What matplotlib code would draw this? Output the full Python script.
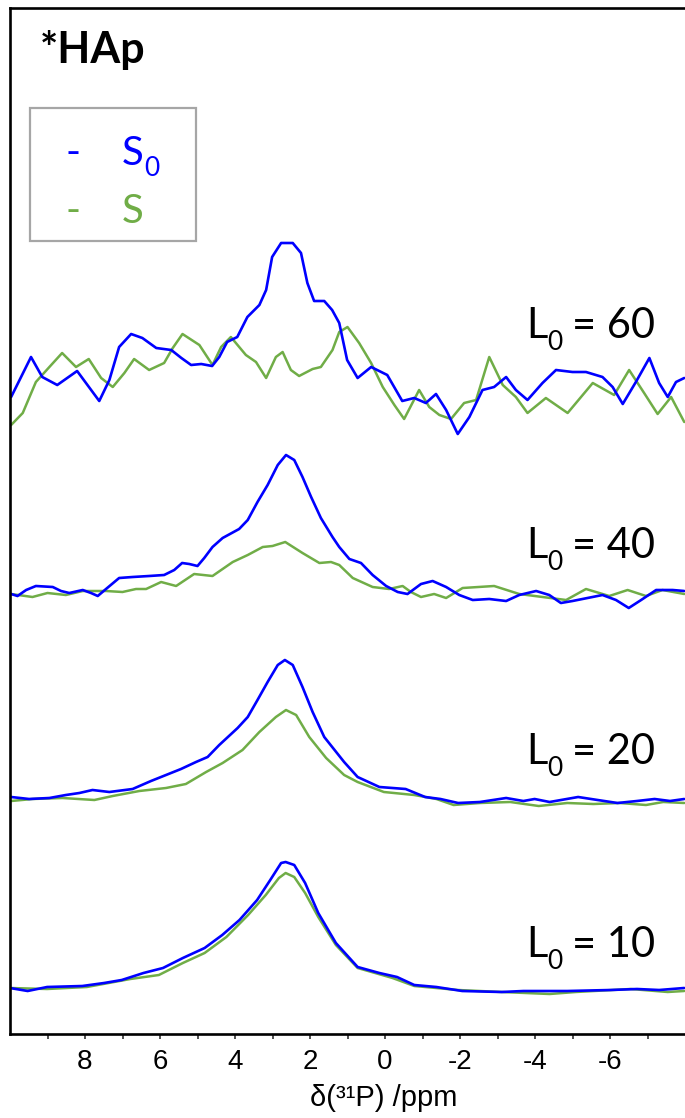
import matplotlib
matplotlib.use("Agg")
import matplotlib.pyplot as plt
from matplotlib.patches import Rectangle
import numpy as np

# ---------------- data ----------------
# x axis: chemical shift delta(31P) in ppm ; y: intensity above each trace baseline
level_values = ["10", "20", "40", "60"]

# L0 = 10
ppm_S0_10 = [10.0, 9.53, 9.01, 8.07, 7.49, 7.02, 6.44, 5.92, 5.39, 4.81, 4.34, 3.88, 3.41,
             3.06, 2.77, 2.65, 2.42, 2.13, 1.78, 1.31, 0.73, 0.15, -0.32, -0.78, -1.37,
             -2.06, -3.11, -3.69, -4.86, -6.02, -6.72, -7.31, -7.98]
S0_10 = [2, -1, 3, 4, 7, 10, 17, 22, 32, 42, 55, 70, 90, 110, 127, 128, 125, 107, 77, 47,
         23, 17, 13, 5, 3, -1, -2, -1, -1, 0, 1, 0, 2]
ppm_S_10 = [10.0, 9.01, 7.95, 7.37, 6.79, 6.03, 5.39, 4.81, 4.23, 3.65, 3.18, 2.83, 2.65,
            2.42, 2.13, 1.78, 1.31, 0.73, -0.20, -0.78, -1.95, -3.11, -4.39, -5.09, -6.55,
            -7.54, -7.98]
S_10 = [2, 1, 3, 7, 11, 15, 27, 37, 53, 75, 95, 112, 117, 113, 97, 73, 45, 22, 12, 4, 0,
        -2, -4, -2, 1, -2, -1]

# L0 = 20
ppm_S0_20 = [9.97, 9.49, 8.95, 8.51, 8.15, 7.80, 7.35, 6.73, 6.24, 5.84, 5.44, 5.04, 4.73,
             4.42, 3.93, 3.66, 3.40, 3.13, 2.86, 2.67, 2.46, 2.20, 1.93, 1.62, 1.09, 0.73,
             0.15, -0.55, -1.07, -1.48, -1.95, -2.53, -3.23, -3.69, -3.99, -4.39, -5.15,
             -5.67, -6.20, -6.72, -7.19, -7.60, -7.98]
S0_20 = [3, 1, 2, 5, 7, 10, 8, 11, 19, 25, 31, 38, 43, 55, 72, 83, 100, 118, 135, 140, 135,
         113, 88, 63, 38, 23, 13, 11, 3, 1, -3, -2, 2, -1, 1, -2, 3, 0, -3, -1, 1, -1, 1]
ppm_S_20 = [9.97, 9.40, 8.60, 7.75, 7.26, 6.55, 5.84, 5.31, 4.77, 4.33, 3.80, 3.35, 2.91,
            2.64, 2.37, 2.02, 1.57, 1.09, 0.73, 0.03, -0.78, -1.37, -1.83, -2.53, -3.34,
            -4.10, -4.86, -5.56, -6.26, -6.96, -7.42, -7.98]
S_20 = [-1, 1, 2, 0, 4, 9, 12, 16, 28, 37, 50, 68, 83, 90, 85, 63, 42, 25, 18, 8, 5, 1, -5,
        -3, -2, -6, -3, -4, -3, -5, -2, -3]

# L0 = 40
ppm_S0_40 = [9.97, 9.80, 9.57, 9.31, 8.86, 8.64, 8.42, 8.06, 7.84, 7.66, 7.44, 7.09, 6.73,
             6.29, 5.89, 5.62, 5.41, 5.22, 5.00, 4.82, 4.60, 4.33, 3.89, 3.66, 3.40, 3.13,
             2.86, 2.64, 2.42, 2.20, 1.97, 1.71, 1.40, 1.22, 0.95, 0.64, 0.33, -0.03, -0.34,
             -0.60, -0.96, -1.27, -1.63, -1.98, -2.34, -2.78, -3.23, -3.58, -4.03, -4.38,
             -4.69, -5.00, -5.40, -5.80, -6.16, -6.50, -6.83, -7.23, -7.67, -7.98]
S0_40 = [-2, -4, 2, 6, 5, 1, -1, 2, -1, -4, 3, 14, 15, 16, 17, 22, 29, 28, 26, 34, 45, 54,
         63, 72, 90, 107, 127, 137, 132, 115, 95, 74, 55, 45, 33, 29, 17, 6, 0, -2, 8, 11,
         5, -3, -8, -7, -9, -3, 1, -3, -11, -9, -6, -3, -8, -16, -8, 2, 2, 1]
ppm_S_40 = [9.97, 9.40, 9.00, 8.51, 8.06, 7.44, 7.00, 6.64, 6.37, 5.97, 5.57, 5.09, 4.60,
            4.06, 3.66, 3.26, 3.00, 2.66, 2.20, 1.75, 1.44, 1.22, 0.86, 0.33, -0.11, -0.47,
            -0.69, -0.96, -1.31, -1.63, -2.07, -2.91, -3.58, -4.20, -4.83, -5.36, -5.98,
            -6.47, -6.96, -7.40, -7.98]
S_40 = [-2, -5, -1, -3, 1, 1, 0, 3, 3, 10, 6, 18, 16, 30, 37, 45, 46, 50, 39, 29, 30, 27,
        14, 5, 3, 6, 0, -5, -2, -6, 4, 6, -2, -5, -8, 3, -4, 2, -4, 2, -2]

# L0 = 60
ppm_S0_60 = [9.97, 9.44, 9.14, 8.74, 8.21, 7.62, 7.35, 7.09, 6.77, 6.47, 6.10, 5.70, 5.43,
             5.17, 4.90, 4.61, 4.42, 4.21, 3.94, 3.67, 3.35, 3.17, 3.01, 2.77, 2.46, 2.24,
             2.07, 1.89, 1.62, 1.41, 1.22, 1.01, 0.73, 0.37, -0.06, -0.46, -0.78, -1.09,
             -1.36, -1.63, -1.94, -2.25, -2.60, -2.91, -3.23, -3.49, -3.80, -4.20, -4.56,
             -5.00, -5.36, -5.80, -6.07, -6.34, -6.69, -7.05, -7.31, -7.54, -7.76, -7.98]
S0_60 = [3, 43, 23, 15, 29, -1, 20, 53, 66, 62, 52, 50, 42, 35, 36, 34, 43, 58, 63, 83, 95,
         110, 143, 157, 157, 147, 117, 99, 99, 90, 77, 40, 22, 33, 25, -1, 2, -3, 6, -10,
         -34, -17, 10, 13, 23, 10, 0, 17, 30, 28, 28, 23, 13, -4, 18, 42, 17, 3, 18, 22]
ppm_S_60 = [9.97, 9.66, 9.31, 8.95, 8.61, 8.24, 7.90, 7.57, 7.26, 6.95, 6.69, 6.29, 5.89,
            5.66, 5.40, 4.95, 4.60, 4.37, 4.11, 3.71, 3.44, 3.17, 2.91, 2.73, 2.51, 2.29,
            1.93, 1.71, 1.40, 1.22, 1.00, 0.69, 0.37, 0.06, -0.25, -0.51, -0.91, -1.18,
            -1.45, -1.76, -2.11, -2.43, -2.78, -3.14, -3.49, -3.80, -4.29, -4.87, -5.54,
            -6.11, -6.51, -6.91, -7.27, -7.63, -7.98]
S_60 = [-25, -13, 18, 33, 47, 33, 41, 22, 13, 27, 41, 30, 37, 52, 66, 55, 35, 53, 63, 45,
        38, 22, 43, 48, 30, 24, 31, 33, 50, 68, 73, 57, 37, 13, -5, -19, 10, -7, -15, -19,
        -3, 0, 43, 15, 3, -13, 2, -13, 17, 5, 30, 7, -14, 3, -22]

major_ticks = [8, 6, 4, 2, 0, -2, -4, -6]
major_labels = ["8", "6", "4", "2", "0", "-2", "-4", "-6"]
minor_ticks = [9, 7, 5, 3, 1, -1, -3, -5, -7]

# ---------------- layout / style ----------------
BLUE = "#0000FF"
GREEN = "#70AD47"
stack_offsets = [44, 234, 442, 634]          # vertical stacking of the four traces
label_baselines_px = [957, 764, 558, 338]    # pixel rows of the "L0 = .." labels

plt.rcParams["axes.unicode_minus"] = False

W, H = 685, 1118
fig = plt.figure(figsize=(W / 100, H / 100), dpi=100)
ax = fig.add_axes([10 / W, (H - 1034) / H, 675 / W, 1026 / H])


def fx(px):
    return px / W


def fy(py):
    return 1 - py / H


traces = [
    (ppm_S0_10, S0_10, ppm_S_10, S_10),
    (ppm_S0_20, S0_20, ppm_S_20, S_20),
    (ppm_S0_40, S0_40, ppm_S_40, S_40),
    (ppm_S0_60, S0_60, ppm_S_60, S_60),
]
for (pb, yb, pg, yg), off in zip(traces, stack_offsets):
    ax.plot(pg, off + np.asarray(yg), color=GREEN, lw=1.8, solid_joinstyle="round",
            solid_capstyle="round")
    ax.plot(pb, off + np.asarray(yb), color=BLUE, lw=1.9, solid_joinstyle="round",
            solid_capstyle="round")

ax.set_xlim(10, -8)
ax.set_ylim(0, 1026)
ax.set_yticks([])
ax.set_xticks(major_ticks)
ax.set_xticklabels(major_labels, fontsize=20, family="Liberation Sans")
ax.set_xticks(minor_ticks, minor=True)
ax.tick_params(axis="x", which="both", direction="out", length=3.5, width=1.2,
               pad=7, color="#333333")
ax.spines["right"].set_visible(False)
for s in ["top", "left", "bottom"]:
    ax.spines[s].set_linewidth(1.9)
    ax.spines[s].set_color("black")

fig.text(fx(384), fy(1106), "δ(³¹P) /ppm", fontsize=21, family="Liberation Sans",
         ha="center", va="baseline")

# title
fig.text(fx(40), fy(63.5), "*HAp", fontsize=31, fontweight="bold", family="Lato",
         ha="left", va="baseline")

# legend box
fig.add_artist(Rectangle((fx(30), fy(241)), fx(196) - fx(30), fy(108) - fy(241),
                         transform=fig.transFigure, fill=False, edgecolor="#A6A6A6",
                         lw=1.6))
for row_y, col, sub in [(165, BLUE, "0"), (222.7, GREEN, "")]:
    fig.text(fx(65), fy(row_y), "-", fontsize=29, family="Lato", color=col,
             va="baseline")
    fig.text(fx(122), fy(row_y), "S", fontsize=29, family="Lato", color=col,
             va="baseline")
    if sub:
        fig.text(fx(144), fy(row_y + 11), sub, fontsize=19, family="Lato", color=col,
                 va="baseline")

# level labels "L0 = value"
for val, by in zip(level_values, label_baselines_px):
    fig.text(fx(526), fy(by), "L", fontsize=30, family="Lato", va="baseline")
    fig.text(fx(547.5), fy(by + 12), "0", fontsize=19, family="Lato", va="baseline")
    fig.text(fx(572), fy(by), "= " + val, fontsize=30, family="Lato", va="baseline")

fig.savefig("out.png", dpi=100)
